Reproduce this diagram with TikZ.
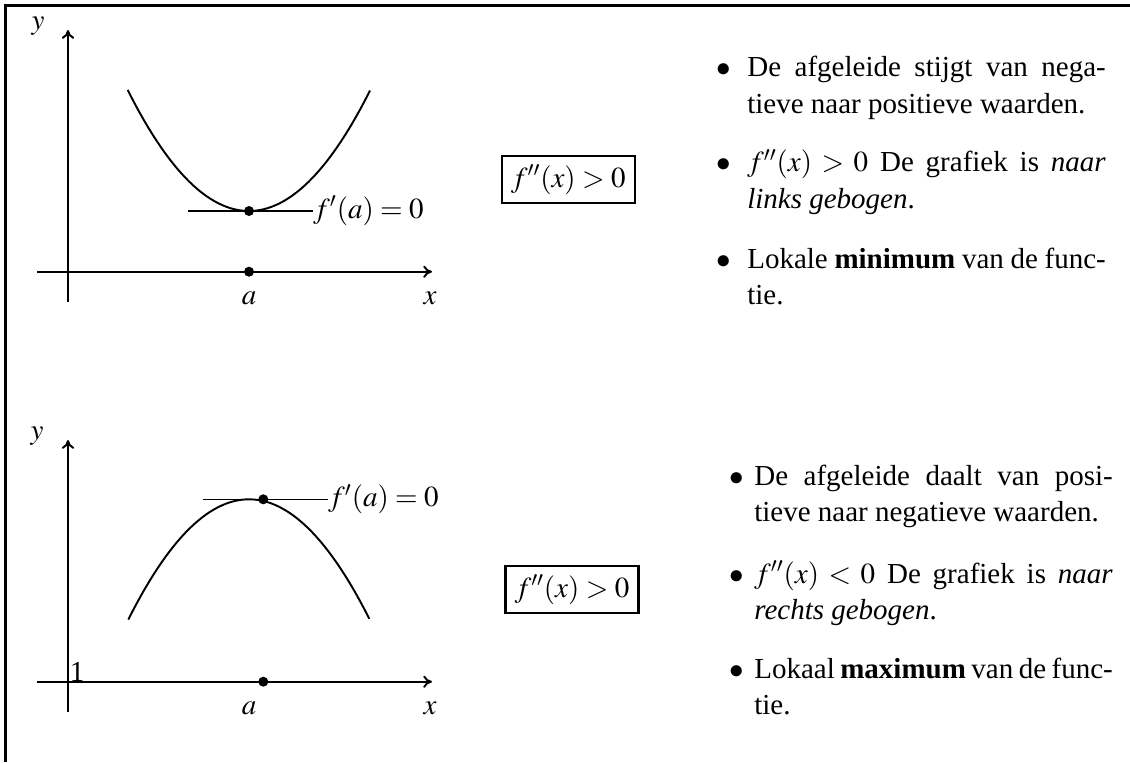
\documentclass[tikz,border=0pt]{standalone}
\usepackage{amsmath,amssymb}
\usepackage{mathptmx}
\usepackage{fontspec}
\setmainfont{Liberation Serif}
\usetikzlibrary{arrows.meta,positioning,calc}

\tikzset{
  txt/.style={font=\fontsize{16.5}{20.9}\selectfont, inner sep=0pt},
  axis/.style={line width=1.1pt, -{To[length=5pt,width=7pt]}},
  curve/.style={line width=1.1pt},
  tangent/.style={line width=0.6pt},
  dot/.style={circle, fill, inner sep=0pt, minimum size=0.2cm},
  condbox/.style={txt, draw, line width=1.4pt, minimum width=2.66cm, minimum height=0.94cm},
  item/.style={txt, text width=7.17cm, align=justify},
}

\begin{document}
\begin{tikzpicture}[x=0.02cm, y=-0.02cm]
    \useasboundingbox (0,0) rectangle (1130,762);
    % Frame
    \draw[line width=1.4pt] (5.5,762) -- (5.5,5.5) -- (1130,5.5);

    % Top graph: minimum
    \coordinate (o1l) at (37,271.7);
    \coordinate (o1r) at (432,271.7);
    \coordinate (o1b) at (68,301.7);
    \coordinate (o1t) at (68,30);
    \draw[axis] (o1l) -- (o1r);
    \draw[axis] (o1b) -- (o1t);
    \node[txt] (y1) at (38,26) {$y$};
    \node[txt] (x1) at (430,298) {$x$};
    \node[txt] (a1) at (249,298) {$a$};
    \node[dot] (p1) at (249,271.7) {};
    \draw[curve, domain=127.7:370, samples=60] plot (\x, {211-0.00822*(\x-249)^2});
    \node[dot] (m1) at (249,211) {};
    \node[txt, anchor=west] (f1) at (313,211) {$f'(a)=0$};
    \coordinate (t1) at (188,211);
    \draw[tangent] (t1) -- (f1.west);

    \node[condbox] (c1) at (568.3,179.5) {$f''(x)>0$};

    \node[txt, anchor=base] (b11) at (724,76.7) {$\bullet$};
    \node[item, anchor=base west] (i11) at (747,76.7)
      {De afgeleide stijgt van nega-\linebreak tieve naar positieve waarden.};
    \node[txt, anchor=base] (b12) at (724,171.7) {$\bullet$};
    \node[item, anchor=base west] (i12) at (747,171.7)
      {$f''(x)>0$ De grafiek is \textit{naar}\linebreak \textit{links gebogen}.};
    \node[txt, anchor=base] (b13) at (724,268) {$\bullet$};
    \node[item, anchor=base west] (i13) at (747,268)
      {Lokale \textbf{minimum} van de func-\linebreak tie.};

    % Bottom graph: maximum
    \coordinate (o2l) at (37,681.7);
    \coordinate (o2r) at (432,681.7);
    \coordinate (o2b) at (68,711.7);
    \coordinate (o2t) at (68,440);
    \draw[axis] (o2l) -- (o2r);
    \draw[axis] (o2b) -- (o2t);
    \node[txt] (y2) at (37,436) {$y$};
    \node[txt] (x2) at (430,708) {$x$};
    \node[txt] (a2) at (249,708) {$a$};
    \node[txt, anchor=base west] (one) at (69.5,681.7) {1};
    \node[dot] (p2) at (263.3,681.7) {};
    \draw[curve, domain=128.3:369.3, samples=60] plot (\x, {499.3+0.00826*(\x-249)^2});
    \node[dot] (m2) at (263.3,499.3) {};
    \node[txt, anchor=west] (f2) at (328,499.3) {$f'(a)=0$};
    \coordinate (t2) at (203,499.3);
    \draw[tangent] (t2) -- (f2.west);

    \node[condbox] (c2) at (572,589.5) {$f''(x)>0$};

    \node[txt, anchor=base] (b21) at (737,485) {$\bullet$};
    \node[item, anchor=base west] (i21) at (754,485)
      {De afgeleide daalt van posi-\linebreak tieve naar negatieve waarden.};
    \node[txt, anchor=base] (b22) at (737,583) {$\bullet$};
    \node[item, anchor=base west] (i22) at (754,583)
      {$f''(x)<0$ De grafiek is \textit{naar}\linebreak \textit{rechts gebogen}.};
    \node[txt, anchor=base] (b23) at (737,678) {$\bullet$};
    \node[item, anchor=base west] (i23) at (754,678)
      {Lokaal \textbf{maximum} van de func-\linebreak tie.};
\end{tikzpicture}
\end{document}
